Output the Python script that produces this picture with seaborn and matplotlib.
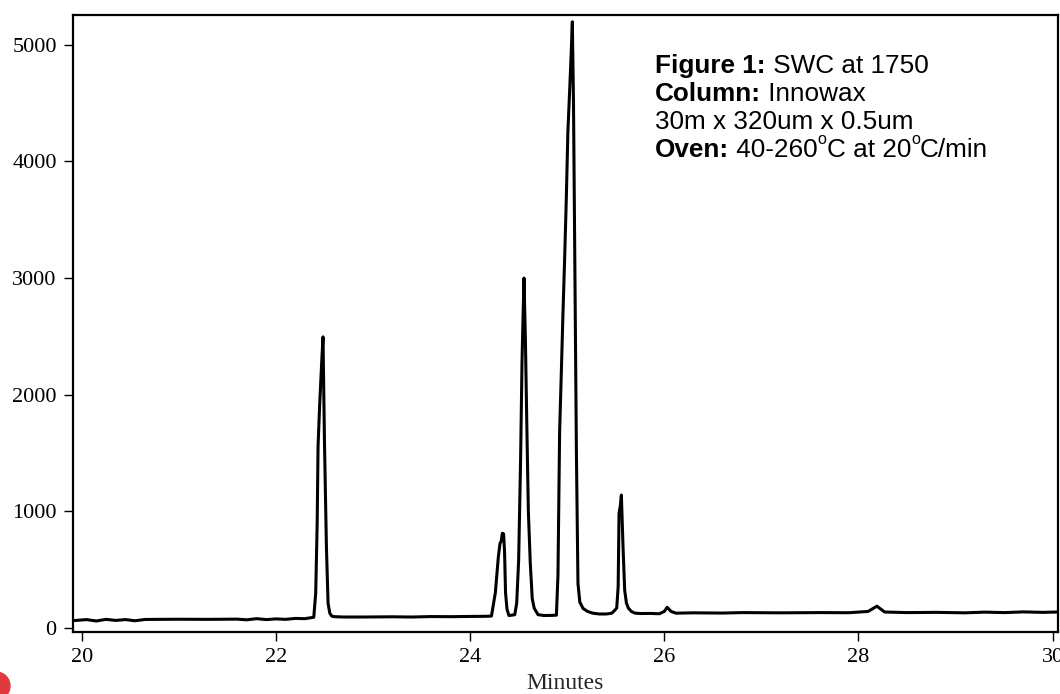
import matplotlib
matplotlib.use("Agg")
import matplotlib.pyplot as plt
import seaborn as sns
import pandas as pd
from matplotlib.patches import Circle
from matplotlib import font_manager as fm

# ---- data ----
minutes = [
    19.93, 20.05, 20.15, 20.25, 20.35, 20.45, 20.55, 20.65, 20.8, 21.0, 21.3, 21.6,
    21.7, 21.8, 21.9, 22.0, 22.1, 22.2, 22.3, 22.39, 22.41, 22.425, 22.434, 22.45,
    22.47, 22.485, 22.50, 22.52, 22.537, 22.555, 22.575, 22.6, 22.7, 22.9, 23.2,
    23.4, 23.6, 23.8, 24.0, 24.15, 24.22, 24.26, 24.29, 24.308, 24.32, 24.332,
    24.345, 24.355, 24.365, 24.38, 24.40, 24.43, 24.46, 24.48, 24.50, 24.52,
    24.535, 24.555, 24.57, 24.585, 24.60, 24.62, 24.64, 24.66, 24.70, 24.76, 24.84,
    24.889, 24.905, 24.922, 24.94, 24.956, 24.975, 24.991, 25.007, 25.025, 25.04,
    25.053, 25.065, 25.08, 25.095, 25.111, 25.13, 25.164, 25.21, 25.263, 25.33,
    25.404, 25.46, 25.49, 25.51, 25.525, 25.534, 25.548, 25.558, 25.575, 25.592,
    25.61, 25.63, 25.66, 25.70, 25.76, 25.85, 25.95, 26.0, 26.03, 26.07, 26.12,
    26.3, 26.6, 26.8, 27.2, 27.6, 27.9, 28.1, 28.19, 28.27, 28.5, 28.8, 29.1, 29.3,
    29.5, 29.7, 29.9, 30.05,
]
signal = [
    62, 70, 58, 72, 63, 70, 60, 71, 72, 73, 72, 74,
    68, 78, 70, 76, 72, 80, 78, 90, 300, 900, 1555, 1900,
    2250, 2495, 1600, 700, 210, 125, 100, 95, 92, 92, 94,
    92, 96, 95, 97, 98, 100, 300, 600, 724, 740, 810,
    805, 650, 300, 160, 105, 108, 112, 212, 580, 1438,
    2296, 2999, 2450, 1700, 1000, 550, 250, 168, 112, 105, 106,
    108, 452, 1679, 2200, 2682, 3200, 3685, 4250, 4600, 4900,
    5197, 4500, 3000, 1500, 380, 220, 165, 140, 125, 118,
    118, 125, 150, 169, 352, 984, 1050, 1138, 695, 323,
    212, 169, 140, 125, 122, 123, 120, 140, 175, 140, 125,
    128, 126, 130, 128, 130, 129, 140, 185, 135, 130, 132, 128, 134,
    130, 136, 132, 135,
]
x_ticks = [20, 22, 24, 26, 28, 30]
y_ticks = [0, 1000, 2000, 3000, 4000, 5000]
x_label = "Minutes"
# each note line: list of (text, style) segments; style: "b" bold, "r" regular, "s" superscript
note_lines = [
    [("Figure 1:", "b"), (" SWC at 1750", "r")],
    [("Column:", "b"), (" Innowax", "r")],
    [("30m x 320um x 0.5um", "r")],
    [("Oven:", "b"), (" 40-260", "r"), ("o", "s"), ("C at 20", "r"), ("o", "s"), ("C/min", "r")],
]

df = pd.DataFrame({"Minutes": minutes, "Signal": signal})

sns.set_style("ticks")
plt.rcParams["font.family"] = ["Liberation Serif", "DejaVu Serif"]

reg_fp = fm.FontProperties(family=["Liberation Sans", "DejaVu Sans"], weight="normal")
bold_fp = fm.FontProperties(family=["Liberation Sans", "DejaVu Sans"], weight="bold")

W, H = 1060, 694
fig = plt.figure(figsize=(W / 100, H / 100), dpi=100)
L, R, T, B = 72.7, 1057.7, 15, 632.3
ax = fig.add_axes([L / W, 1 - B / H, (R - L) / W, (B - T) / H])

sns.lineplot(data=df, x="Minutes", y="Signal", ax=ax, color="black",
             linewidth=2.2, sort=False, estimator=None)

ax.set_xlim(19.907, 30.052)
ax.set_ylim(-39, 5255)
ax.set_xticks(x_ticks)
ax.set_yticks(y_ticks)
ax.set_xticklabels([str(t) for t in x_ticks])
ax.set_yticklabels([str(t) for t in y_ticks])
ax.tick_params(direction="out", length=6.5, width=1, color="black",
               labelsize=16, pad=5, labelcolor="black")
ax.set_xlabel(x_label, fontsize=17)
ax.xaxis.set_label_coords(0.5, -0.066)
ax.set_ylabel("")
for sp in ax.spines.values():
    sp.set_visible(True)
    sp.set_linewidth(1.6)
    sp.set_color("black")

fig.canvas.draw()
renderer = fig.canvas.get_renderer()
FS = 18.8
baselines_px = [73.0, 101.0, 129.0, 157.0]
x_start_px = 655.0
for segs, py in zip(note_lines, baselines_px):
    xpx = x_start_px
    for txt, style in segs:
        fp = (bold_fp if style == "b" else reg_fp).copy()
        if style == "s":
            fp.set_size(FS * 0.62)
            ypx = py - FS * 0.5 * 100 / 72
        else:
            fp.set_size(FS)
            ypx = py
        t = fig.text(xpx / W, 1 - ypx / H, txt, fontproperties=fp,
                     ha="left", va="baseline", color="black")
        ext = t.get_window_extent(renderer=renderer)
        xpx = ext.x1

# small red mark at the bottom-left corner of the image
fig.add_artist(Circle((-0.04, 0.08), 0.14, transform=fig.dpi_scale_trans,
                      color="#e0393e", clip_on=False))

fig.savefig("out.png", dpi=100)
